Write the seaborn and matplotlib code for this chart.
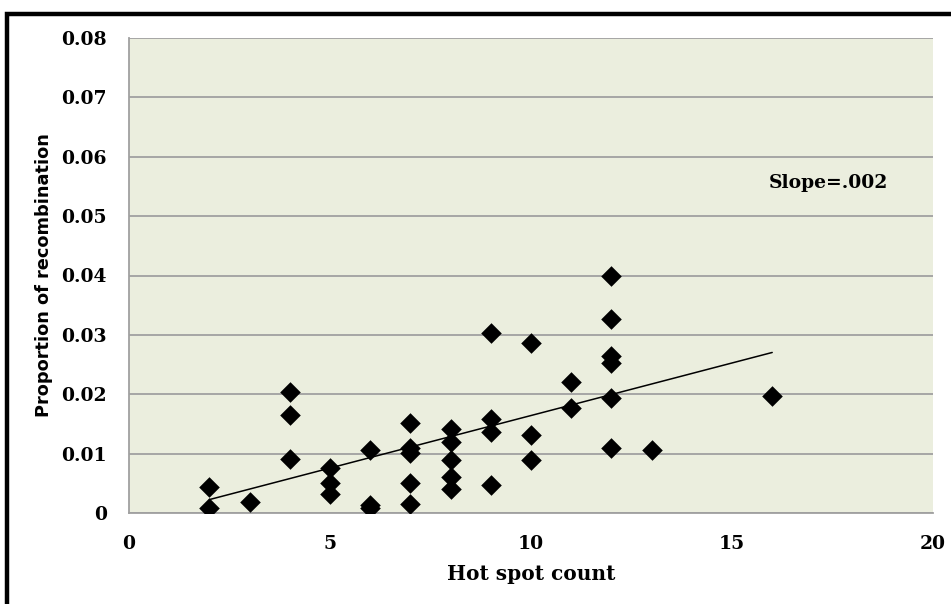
import matplotlib
matplotlib.use("Agg")
import matplotlib.pyplot as plt
import seaborn as sns
import pandas as pd
from matplotlib.patches import Rectangle

# Hot spot counts and the matching proportion of recombination
hot_spots = [2, 2, 3, 4, 4, 4, 5, 5, 5, 6, 6, 6,
             7, 7, 7, 7, 7, 8, 8, 8, 8, 8, 9, 9, 9, 9,
             10, 10, 10, 11, 11, 12, 12, 12, 12, 12, 12, 13, 16]
recombination = [0.0044, 0.0008, 0.0018, 0.0204, 0.0165, 0.0091,
                 0.0075, 0.0051, 0.0032, 0.0106, 0.0013, 0.0008,
                 0.0152, 0.0110, 0.0101, 0.0050, 0.0016,
                 0.0142, 0.0120, 0.0089, 0.0061, 0.0040,
                 0.0303, 0.0159, 0.0137, 0.0047,
                 0.0286, 0.0131, 0.0089, 0.0220, 0.0177,
                 0.0400, 0.0326, 0.0264, 0.0252, 0.0193, 0.0110,
                 0.0106, 0.0197]
x_ticks = [0, 5, 10, 15, 20]
y_ticks = [0, 0.01, 0.02, 0.03, 0.04, 0.05, 0.06, 0.07, 0.08]
y_tick_labels = ["0", "0.01", "0.02", "0.03", "0.04", "0.05", "0.06", "0.07", "0.08"]
slope_label = "Slope=.002"

df = pd.DataFrame({"hot_spots": hot_spots, "recombination": recombination})

sns.set_theme(style="white")
plt.rcParams["text.color"] = "black"
plt.rcParams["axes.labelcolor"] = "black"
plt.rcParams["xtick.color"] = "black"
plt.rcParams["ytick.color"] = "black"
serif = ["DejaVu Serif"]

fig = plt.figure(figsize=(9.51, 6.04), dpi=100)
ax = fig.add_axes([129 / 951, 1 - 513 / 604, (933 - 129) / 951, (513 - 38) / 604])
ax.set_facecolor("#EBEEDE")

# outer frame around the chart
fig.patches.append(Rectangle((7 / 951, -0.05), 1.2, 1 - 14 / 604 + 0.05,
                             transform=fig.transFigure, fill=False,
                             edgecolor="black", linewidth=3.2, zorder=0))

ax.set_xlim(0, 20)
ax.set_ylim(0, 0.08)
ax.set_yticks(y_ticks)
ax.set_yticklabels(y_tick_labels)
ax.set_xticks(x_ticks)
ax.yaxis.grid(True, color="#A0A0A0", linewidth=1.3)
ax.xaxis.grid(False)
ax.set_axisbelow(True)

sns.regplot(data=df, x="hot_spots", y="recombination", ax=ax, ci=None,
            scatter=False, truncate=True,
            line_kws={"color": "black", "linewidth": 1.1, "zorder": 2})
sns.scatterplot(data=df, x="hot_spots", y="recombination", ax=ax,
                marker="D", s=110, color="black", edgecolor="black",
                linewidth=0, zorder=3, legend=False)

for side in ["top", "right"]:
    ax.spines[side].set_visible(False)
for side in ["left", "bottom"]:
    ax.spines[side].set_color("#A0A0A0")
    ax.spines[side].set_linewidth(1.3)

ax.tick_params(axis="both", length=0, colors="black")
ax.tick_params(axis="y", pad=16)
ax.tick_params(axis="x", pad=16)
for lab in ax.get_xticklabels() + ax.get_yticklabels():
    lab.set_family(serif)
    lab.set_fontweight("bold")
    lab.set_fontsize(13.5)
    lab.set_color("black")

ax.set_xlabel("Hot spot count", family=serif, fontweight="bold", fontsize=14.5,
              labelpad=8, color="black")
ax.set_ylabel("Proportion of recombination", family=["DejaVu Sans"],
              fontweight="bold", fontsize=12.8, labelpad=6, color="black")

ax.text(17.4, 0.0555, slope_label, family=serif, fontweight="bold",
        fontsize=13.5, ha="center", va="center", color="black")

fig.savefig("out.png", dpi=100)
